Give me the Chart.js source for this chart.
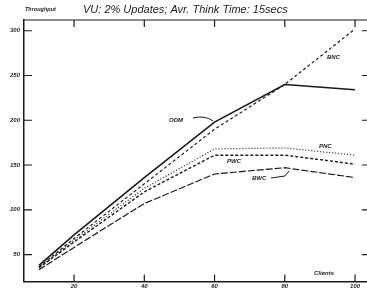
<!DOCTYPE html>
<html lang="en">
<head>
    <meta charset="UTF-8">
    <title>VU: 2% Updates</title>
    <script src="https://cdn.jsdelivr.net/npm/chart.js"></script>
    <style>
        body {
            margin: 0;
            background-color: #fff;
        }
        #wrap {
            width: 367px;
            height: 289px;
        }
    </style>
</head>
<body>
    <div id="wrap">
        <canvas id="throughputChart" width="367" height="289"></canvas>
    </div>

    <script>
        // Data
        const clients = [10, 20, 40, 60, 80, 100];
        const odm = [38, 72, 136, 198, 240, 234];
        const bnc = [36, 68, 129, 190, 240, 302];
        const pnc = [36, 66, 124, 168, 169, 161];
        const pwc = [35, 64, 120, 161, 161, 151];
        const bwc = [33, 58, 107, 140, 147, 136];
        const xTicks = [20, 40, 60, 80, 100];
        const yTicks = [50, 100, 150, 200, 250, 300];

        const ink = '#1a1a1a';
        const labelFont = 'italic bold 6px "Liberation Sans", Arial, sans-serif';

        function series(label, values, dash, width) {
            return {
                label: label,
                data: clients.map((c, i) => ({ x: c, y: values[i] })),
                borderColor: ink,
                borderWidth: width,
                borderDash: dash,
                pointRadius: 0,
                fill: false,
                tension: 0
            };
        }

        // Inward tick marks, top frame line and the text labels
        const decorations = {
            id: 'decorations',
            afterDraw(chart) {
                const ctx = chart.ctx;
                const area = chart.chartArea;
                const xs = chart.scales.x;
                const ys = chart.scales.y;
                ctx.save();
                ctx.strokeStyle = ink;
                ctx.lineWidth = 1.2;
                ctx.setLineDash([]);
                ctx.beginPath();
                ctx.moveTo(area.left, area.top);
                ctx.lineTo(area.right, area.top);
                yTicks.forEach(v => {
                    const py = ys.getPixelForValue(v);
                    ctx.moveTo(area.left, py);
                    ctx.lineTo(area.left + 8, py);
                    ctx.moveTo(area.right - 5, py);
                    ctx.lineTo(area.right, py);
                });
                xTicks.forEach(v => {
                    const px = xs.getPixelForValue(v);
                    ctx.moveTo(px, area.bottom);
                    ctx.lineTo(px, area.bottom - 7);
                    ctx.moveTo(px, area.top);
                    ctx.lineTo(px, area.top + 7);
                });
                ctx.stroke();

                // series labels with arrows
                ctx.fillStyle = ink;
                ctx.font = labelFont;
                ctx.textBaseline = 'middle';
                ctx.fillText('BNC', 327, 57);
                ctx.fillText('ODM', 169, 120);
                ctx.fillText('PNC', 319, 146);
                ctx.fillText('PWC', 227, 161);
                ctx.fillText('BWC', 252, 178);
                ctx.fillText('Clients', 314, 273);

                ctx.lineWidth = 1;
                ctx.beginPath();
                ctx.moveTo(193, 118);
                ctx.quadraticCurveTo(205, 115, 213, 121);
                ctx.moveTo(271, 178);
                ctx.lineTo(285, 176);
                ctx.lineTo(289, 171);
                ctx.stroke();

                // titles
                ctx.font = 'italic 11px "Liberation Sans", Arial, sans-serif';
                ctx.textAlign = 'left';
                ctx.fillText('VU: 2% Updates; Avr. Think Time: 15secs', 83, 10);
                ctx.font = 'italic bold 5.5px "Liberation Sans", Arial, sans-serif';
                ctx.fillText('Throughput', 25, 9);
                ctx.restore();
            }
        };

        const config = {
            type: 'line',
            data: {
                datasets: [
                    series('ODM', odm, [], 1.6),
                    series('BNC', bnc, [3, 2.5], 1.2),
                    series('PNC', pnc, [1, 2], 1.2),
                    series('PWC', pwc, [3, 2], 1.4),
                    series('BWC', bwc, [7, 2], 1.2)
                ]
            },
            options: {
                responsive: false,
                animation: false,
                layout: {
                    padding: { top: 20, right: 0, left: 0, bottom: 0 }
                },
                plugins: {
                    legend: { display: false },
                    title: { display: false },
                    tooltip: { enabled: false }
                },
                scales: {
                    x: {
                        type: 'linear',
                        min: 5.75,
                        max: 103.4,
                        afterFit: s => { s.height = 7; },
                        afterBuildTicks: s => { s.ticks = xTicks.map(v => ({ value: v })); },
                        grid: { display: false, drawTicks: false },
                        border: { display: true, color: ink, width: 1.5 },
                        ticks: {
                            color: ink,
                            padding: 1,
                            font: { size: 6, style: 'italic', weight: 'bold', family: '"Liberation Sans", Arial, sans-serif' }
                        }
                    },
                    y: {
                        min: 20,
                        max: 312,
                        afterFit: s => { s.width = 24; },
                        afterBuildTicks: s => { s.ticks = yTicks.map(v => ({ value: v })); },
                        grid: { display: false, drawTicks: false },
                        border: { display: true, color: ink, width: 1.5 },
                        ticks: {
                            color: ink,
                            padding: 4,
                            font: { size: 6, style: 'italic', weight: 'bold', family: '"Liberation Sans", Arial, sans-serif' }
                        }
                    }
                }
            },
            plugins: [decorations]
        };

        const throughputChart = new Chart(
            document.getElementById('throughputChart'),
            config
        );
    </script>
</body>
</html>
